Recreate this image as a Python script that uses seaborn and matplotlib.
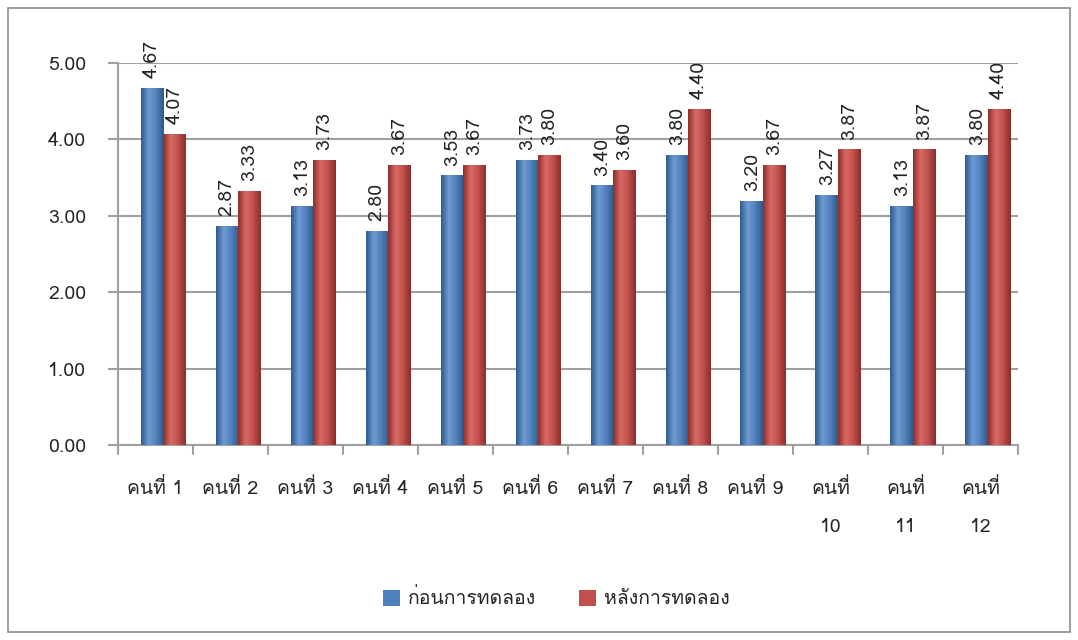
import numpy as np
import pandas as pd
import seaborn as sns
import matplotlib.pyplot as plt
from matplotlib import font_manager
from matplotlib.ft2font import FT2Font
from matplotlib.patches import Rectangle
from matplotlib.colors import LinearSegmentedColormap

# data
people = ['คนที่ 1', 'คนที่ 2', 'คนที่ 3', 'คนที่ 4', 'คนที่ 5', 'คนที่ 6',
          'คนที่ 7', 'คนที่ 8', 'คนที่ 9', 'คนที่\n10', 'คนที่\n11', 'คนที่\n12']
before = [4.67, 2.87, 3.13, 2.80, 3.53, 3.73, 3.40, 3.80, 3.20, 3.27, 3.13, 3.80]
after = [4.07, 3.33, 3.73, 3.67, 3.67, 3.80, 3.60, 4.40, 3.67, 3.87, 3.87, 4.40]
series = ['ก่อนการทดลอง', 'หลังการทดลอง']
colors = ['#4F81BD', '#C0504D']

# find an installed font that has Thai glyphs
thai_font = None
for f in font_manager.fontManager.ttflist:
    try:
        if 0x0E01 in FT2Font(f.fname).get_charmap():
            thai_font = f.name
            break
    except Exception:
        pass

sns.set_style('white')
plt.rcParams['font.family'] = ([thai_font] if thai_font else []) + ['DejaVu Sans']

df = pd.DataFrame({
    'person': people * 2,
    'score': before + after,
    'group': [series[0]] * 12 + [series[1]] * 12,
})

fig = plt.figure(figsize=(10.78, 6.40), dpi=100)
ax = fig.add_axes([118 / 1078, 1 - 445 / 640, 900 / 1078, 382 / 640])

sns.barplot(data=df, x='person', y='score', hue='group', palette=colors,
            saturation=1, width=0.6, ax=ax, edgecolor='none', zorder=3)

# cylinder-like shading: shift bars a bit (3D depth) and paint a gradient
shades = [
    LinearSegmentedColormap.from_list('b', ['#2F5A8E', '#6F9BD3', '#4F81BD', '#30598A']),
    LinearSegmentedColormap.from_list('r', ['#8C2F2D', '#DA6A66', '#C0504D', '#8A2E2C']),
]
grad = np.linspace(0, 1, 64).reshape(1, -1)
for i, cont in enumerate(ax.containers):
    for bar in cont:
        bar.set_x(bar.get_x() + 0.1)
        x, w, h = bar.get_x(), bar.get_width(), bar.get_height()
        im = ax.imshow(grad, extent=[x, x + w, 0, h], cmap=shades[i],
                       aspect='auto', zorder=3.5)
        im.set_clip_path(bar)
    ax.bar_label(cont, labels=[f'{v:.2f}' for v in cont.datavalues],
                 rotation=90, padding=7, fontsize=14, color='#222222')

ax.set_ylim(0, 5)
ax.set_xlim(-0.5, 11.5)
ax.set_yticks([0, 1, 2, 3, 4, 5])
ax.set_yticklabels([f'{v:.2f}' for v in [0, 1, 2, 3, 4, 5]], fontsize=14)
ax.yaxis.grid(True, color='#A0A0A0', linewidth=1.5, zorder=0)
ax.set_xticks(np.arange(12))
ax.set_xticklabels(people, fontsize=14, linespacing=2.4, va='top')
ax.set_xlabel('')
ax.set_ylabel('')
for s in ['top', 'right']:
    ax.spines[s].set_visible(False)
for s in ['left', 'bottom']:
    ax.spines[s].set_color('#A0A0A0')
    ax.spines[s].set_linewidth(1.5)

# ticks between categories
ax.tick_params(axis='x', length=0, pad=24)
ax.tick_params(axis='y', length=7, color='#A0A0A0', width=1.5, left=True, pad=16)
for xb in np.arange(-0.5, 12, 1):
    ax.plot([xb, xb], [0, -0.12], color='#A0A0A0', lw=1.5, clip_on=False)

leg = ax.legend(loc='upper center', bbox_to_anchor=(0.487, -0.33), ncol=2,
                frameon=False, fontsize=14, handlelength=0.9, handleheight=0.9,
                columnspacing=2.2, handletextpad=0.4)

# outer chart border
fig.patches.append(Rectangle((8 / 1078, 8 / 640), 1 - 16 / 1078, 1 - 16 / 640,
                             transform=fig.transFigure, fill=False,
                             edgecolor='#8C8C8C', linewidth=1.2))

fig.savefig('out.png', dpi=100)
